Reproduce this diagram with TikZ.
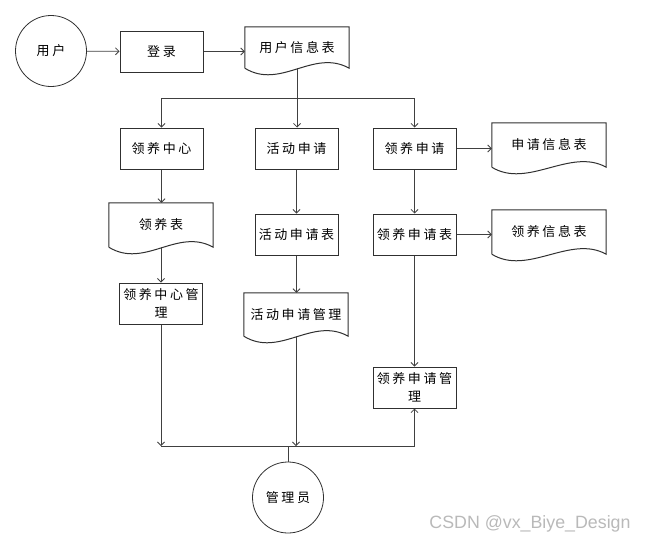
\documentclass[tikz,border=0pt]{standalone}
\usepackage{fontspec}
\newfontfamily\cjk[LetterSpace=20]{Noto Sans CJK SC}
\newfontfamily\wmfont{Liberation Sans}
\usetikzlibrary{arrows.meta}
\definecolor{lc}{HTML}{404040}
\definecolor{bc}{HTML}{303030}
\newcommand\mydoc[1]{\draw[docline] (#1.south west) -- (#1.north west) -- (#1.north east) -- (#1.south east) .. controls +(-36,-20) and +(36,22) .. (#1.south west);}
\begin{document}
\begin{tikzpicture}[x=1pt,y=-1pt,
  line/.style={draw=lc, line width=0.8pt},
  arr/.style={line, -{Straight Barb[length=3.5pt,width=7pt]}},
  txt/.style={font=\cjk\fontsize{13}{18}\selectfont, align=center, text=black},
  box/.style={txt, draw=bc, line width=1pt, minimum width=83pt, minimum height=41pt, inner sep=0pt},
  docn/.style={txt, minimum width=#1, minimum height=43pt, inner sep=0pt},
  docline/.style={draw=bc, line width=1pt},
  circ/.style={txt, circle, draw=bc, line width=0.8pt, minimum size=71pt, inner sep=0pt}]
\useasboundingbox (0,0) rectangle (647,544);

% nodes
\node[circ] (user) at (51,51) {用户};
\node[box] (login) at (161.5,51.5) {登录};
\node[docn=104pt, minimum height=41pt] (uinfo) at (297,47.5) {用户信息表};

\node[box] (zx) at (161.5,148.5) {领养中心};
\node[box] (hd) at (296.5,148.5) {活动申请};
\node[box] (sq) at (414.5,148.5) {领养申请};
\node[docn=114pt, minimum height=44pt] (sqinfo) at (549,145) {申请信息表};

\node[docn=104pt, minimum height=44pt] (lyb) at (161,225) {领养表};
\node[box] (hdb) at (296.5,234.5) {活动申请表};
\node[box] (lysq) at (414.5,234.5) {领养申请表};
\node[docn=114pt, minimum height=44pt] (lyinfo) at (549,232) {领养信息表};

\node[box] (zxgl) at (161,303.5) {领养中心管\\理};
\node[docn=104pt, minimum height=43pt] (hdgl) at (296,314.5) {活动申请管理};
\node[box] (sqgl) at (414.5,387.5) {领养申请管\\理};

\node[circ] (admin) at (288,497.5) {管理员};

\node[font=\wmfont\fontsize{17.8}{20}\selectfont, text=gray!55, inner sep=0pt] (wm) at (530,524) {CSDN @vx\_Biye\_Design};

% document outlines
\mydoc{uinfo}
\mydoc{sqinfo}
\mydoc{lyb}
\mydoc{lyinfo}
\mydoc{hdgl}

% connectors
\coordinate (top) at (297,98);
\coordinate (bot) at (288,446);

\draw[arr] (user) -- (login);
\draw[arr] (login.east) -- (login.east -| uinfo.west);
\draw[line] (uinfo.south) -- (top);
\draw[arr] (top) -| (zx.north);
\draw[arr] (top) -| (sq.north);
\draw[arr] (top) -- (top |- hd.north);

\draw[arr] (sq.east) -- (sq.east -| sqinfo.west);
\draw[arr] (lysq.east) -- (lysq.east -| lyinfo.west);

\draw[arr] (zx.south) -- (zx.south |- lyb.north);
\draw[arr] (hd.south) -- (hdb.north);
\draw[arr] (sq.south) -- (lysq.north);

\draw[arr] (lyb.south) -- (lyb.south |- zxgl.north);
\draw[arr] (hdb.south) -- (hdb.south |- hdgl.north);
\draw[arr] (lysq.south) -- (sqgl.north);

\draw[arr] (zxgl.south) -- (zxgl.south |- bot);
\draw[arr] (hdgl.south) -- (hdgl.south |- bot);
\draw[line] (zxgl.south |- bot) -- (sqgl.south |- bot);
\draw[arr] (sqgl.south |- bot) -- (sqgl.south);
\draw[line] (bot) -- (admin.north);
\end{tikzpicture}
\end{document}
